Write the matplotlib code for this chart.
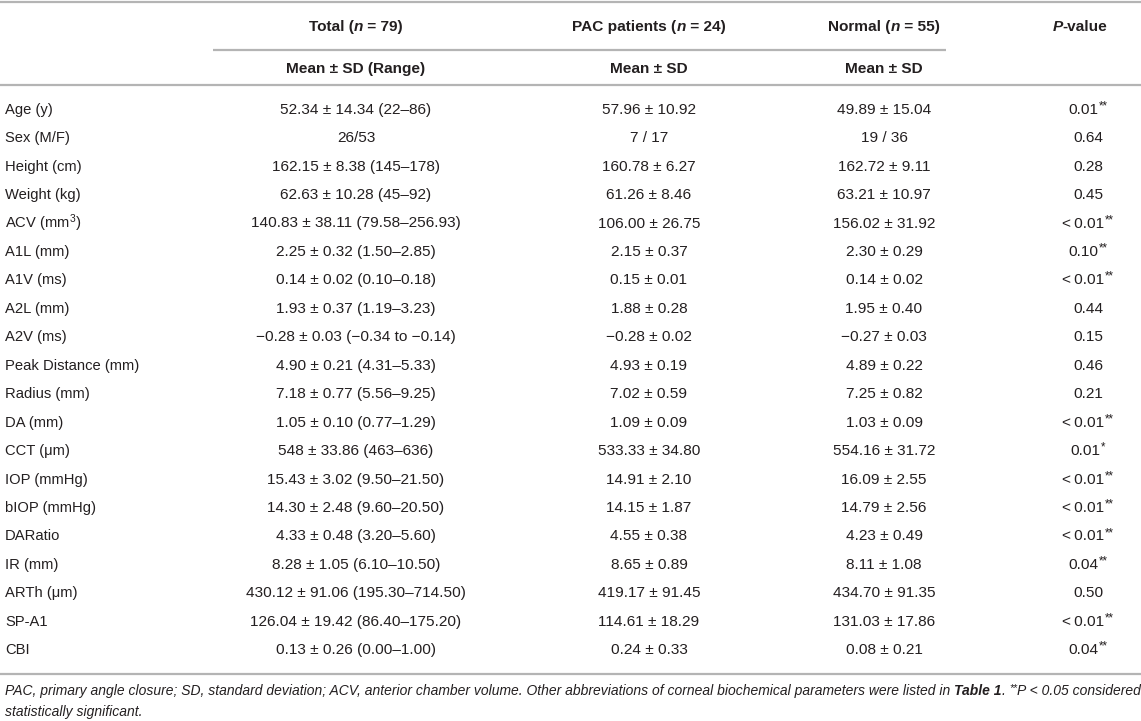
import matplotlib
matplotlib.use("Agg")
import matplotlib.pyplot as plt

# ---------------- data ----------------
params = ["Age (y)", "Sex (M/F)", "Height (cm)", "Weight (kg)", "ACV (mm$^{3}$)",
          "A1L (mm)", "A1V (ms)", "A2L (mm)", "A2V (ms)", "Peak Distance (mm)",
          "Radius (mm)", "DA (mm)", "CCT (\u03bcm)", "IOP (mmHg)", "bIOP (mmHg)",
          "DARatio", "IR (mm)", "ARTh (\u03bcm)", "SP-A1", "CBI"]
total = ["52.34 \u00b1 14.34 (22\u201386)", "26/53", "162.15 \u00b1 8.38 (145\u2013178)",
         "62.63 \u00b1 10.28 (45\u201392)", "140.83 \u00b1 38.11 (79.58\u2013256.93)",
         "2.25 \u00b1 0.32 (1.50\u20132.85)", "0.14 \u00b1 0.02 (0.10\u20130.18)",
         "1.93 \u00b1 0.37 (1.19\u20133.23)", "\u22120.28 \u00b1 0.03 (\u22120.34 to \u22120.14)",
         "4.90 \u00b1 0.21 (4.31\u20135.33)", "7.18 \u00b1 0.77 (5.56\u20139.25)",
         "1.05 \u00b1 0.10 (0.77\u20131.29)", "548 \u00b1 33.86 (463\u2013636)",
         "15.43 \u00b1 3.02 (9.50\u201321.50)", "14.30 \u00b1 2.48 (9.60\u201320.50)",
         "4.33 \u00b1 0.48 (3.20\u20135.60)", "8.28 \u00b1 1.05 (6.10\u201310.50)",
         "430.12 \u00b1 91.06 (195.30\u2013714.50)", "126.04 \u00b1 19.42 (86.40\u2013175.20)",
         "0.13 \u00b1 0.26 (0.00\u20131.00)"]
pac = ["57.96 \u00b1 10.92", "7 / 17", "160.78 \u00b1 6.27", "61.26 \u00b1 8.46",
       "106.00 \u00b1 26.75", "2.15 \u00b1 0.37", "0.15 \u00b1 0.01", "1.88 \u00b1 0.28",
       "\u22120.28 \u00b1 0.02", "4.93 \u00b1 0.19", "7.02 \u00b1 0.59", "1.09 \u00b1 0.09",
       "533.33 \u00b1 34.80", "14.91 \u00b1 2.10", "14.15 \u00b1 1.87", "4.55 \u00b1 0.38",
       "8.65 \u00b1 0.89", "419.17 \u00b1 91.45", "114.61 \u00b1 18.29", "0.24 \u00b1 0.33"]
normal = ["49.89 \u00b1 15.04", "19 / 36", "162.72 \u00b1 9.11", "63.21 \u00b1 10.97",
          "156.02 \u00b1 31.92", "2.30 \u00b1 0.29", "0.14 \u00b1 0.02", "1.95 \u00b1 0.40",
          "\u22120.27 \u00b1 0.03", "4.89 \u00b1 0.22", "7.25 \u00b1 0.82", "1.03 \u00b1 0.09",
          "554.16 \u00b1 31.72", "16.09 \u00b1 2.55", "14.79 \u00b1 2.56", "4.23 \u00b1 0.49",
          "8.11 \u00b1 1.08", "434.70 \u00b1 91.35", "131.03 \u00b1 17.86", "0.08 \u00b1 0.21"]
pvals = ["0.01", "0.64", "0.28", "0.45", "<\u20090.01", "0.10", "<\u20090.01", "0.44", "0.15",
         "0.46", "0.21", "<\u20090.01", "0.01", "<\u20090.01", "<\u20090.01", "<\u20090.01",
         "0.04", "0.50", "<\u20090.01", "0.04"]
pstars = ["**", "", "", "", "**", "**", "**", "", "", "", "", "**", "*", "**", "**", "**",
          "**", "", "**", "**"]

# ---------------- style ----------------
FONT = "Liberation Sans"
plt.rcParams["font.family"] = [FONT, "DejaVu Sans"]
plt.rcParams["mathtext.fontset"] = "custom"
plt.rcParams["mathtext.rm"] = FONT
plt.rcParams["mathtext.it"] = FONT + ":italic"
plt.rcParams["mathtext.bf"] = FONT + ":bold"

TXT = "#231f20"
RULE = "#b4b4b4"
FS = 11.1      # values / headers
FS_LAB = 10.6  # row labels

W, H = 1141, 721
fig = plt.figure(figsize=(W / 100, H / 100), dpi=100)
ax = fig.add_axes([0, 0, 1, 1])
ax.set_xlim(0, W)
ax.set_ylim(H, 0)
ax.axis("off")
renderer = fig.canvas.get_renderer()

col_x = {"label": 5, "total": 356, "pac": 649, "normal": 884, "p": 1088, "p_head": 1080}
row0, row_step = 108.5, 28.45
base_off = 5.2


def seg_text(x, y, segs, ha="center", size=FS):
    """segs: list of (text, weight, style, rel_size, dy)"""
    arts, widths = [], []
    for (t, w, s, rs, dy) in segs:
        a = ax.text(0, y + dy, t, fontsize=size * rs, fontweight=w, fontstyle=s, color=TXT,
                    va="baseline", ha="left")
        arts.append(a)
        widths.append(a.get_window_extent(renderer=renderer).width)
    tot = sum(widths)
    x0 = x - tot / 2 if ha == "center" else (x - tot if ha == "right" else x)
    for a, wd in zip(arts, widths):
        a.set_x(x0)
        x0 += wd
    return arts, tot


# rules
for (x0, x1, yy) in [(0, W, 2), (213, 946, 50), (0, W, 85), (0, W, 674)]:
    ax.plot([x0, x1], [yy, yy], color=RULE, lw=1.6, solid_capstyle="butt")

# headers
hy = 26 + base_off
for key, name, n in [("total", "Total (", "79"), ("pac", "PAC patients (", "24"),
                     ("normal", "Normal (", "55")]:
    seg_text(col_x[key], hy, [(name, "bold", "normal", 1, 0), ("n", "bold", "italic", 1, 0),
                              (" = " + n + ")", "bold", "normal", 1, 0)])
seg_text(col_x["p_head"], hy, [("P", "bold", "italic", 1, 0), ("-value", "bold", "normal", 1, 0)])
sy = 68 + base_off
seg_text(col_x["total"], sy, [("Mean \u00b1 SD (Range)", "bold", "normal", 1, 0)])
seg_text(col_x["pac"], sy, [("Mean \u00b1 SD", "bold", "normal", 1, 0)])
seg_text(col_x["normal"], sy, [("Mean \u00b1 SD", "bold", "normal", 1, 0)])

# body
for i in range(len(params)):
    y = row0 + i * row_step + base_off
    ax.text(col_x["label"], y, params[i], fontsize=FS_LAB, color=TXT, ha="left", va="baseline")
    ax.text(col_x["total"], y, total[i], fontsize=FS, color=TXT, ha="center", va="baseline")
    ax.text(col_x["pac"], y, pac[i], fontsize=FS, color=TXT, ha="center", va="baseline")
    ax.text(col_x["normal"], y, normal[i], fontsize=FS, color=TXT, ha="center", va="baseline")
    segs = [(pvals[i], "normal", "normal", 1, 0)]
    if pstars[i]:
        segs.append((pstars[i], "normal", "normal", 0.75, -4.5))
    seg_text(col_x["p"], y, segs)

# footnote
line1 = [("PAC, primary angle closure; SD, standard deviation; ACV, anterior chamber volume. "
          "Other abbreviations of corneal biochemical parameters were listed in ", "normal", "italic", 1, 0),
         ("Table 1", "bold", "italic", 1, 0),
         (". ", "normal", "italic", 1, 0),
         ("**", "normal", "italic", 0.75, -4),
         ("P < 0.05 considered", "normal", "italic", 1, 0)]
arts, tmp = seg_text(5, -100, line1, ha="left", size=9.0)
for a in arts:
    a.remove()
fsz = 9.0 * (1132 / tmp)
seg_text(5, 695, line1, ha="left", size=fsz)
seg_text(5, 716, [("statistically significant.", "normal", "italic", 1, 0)], ha="left", size=fsz)

fig.savefig("out.png", dpi=100)
